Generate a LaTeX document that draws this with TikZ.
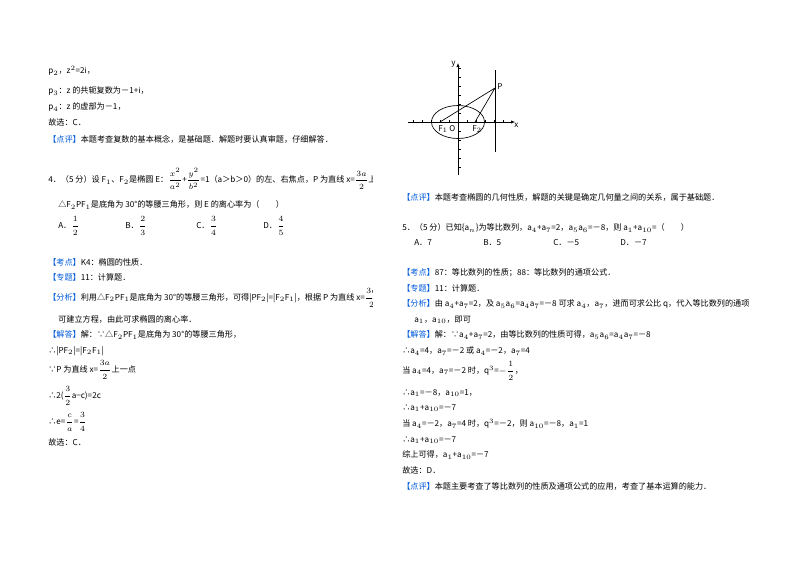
\documentclass[tikz,border=0pt]{standalone}
\usepackage{amsmath}
\usepackage{fontspec}
\setmainfont{Noto Sans CJK SC}
\usetikzlibrary{arrows.meta}
\definecolor{kb}{RGB}{0,90,220}
\newcommand{\tg}[1]{\textcolor{kb}{【#1】}}
\tikzset{t/.style={anchor=west,inner sep=0pt,font=\fontsize{6.1}{8}\selectfont},
 fl/.style={anchor=west,inner sep=0pt,font=\fontsize{6}{7}\selectfont\itshape},
 ax/.style={line width=0.5pt,-{Latex[length=3pt,width=2.5pt]}},
 thin/.style={line width=0.5pt}}
\begin{document}
\begin{tikzpicture}[x=0.75pt,y=-0.75pt]
\fill[white] (0,0) rectangle (800,565);
% left column
\node[t] (l1) at (48,71) {p$_2$，z$^2$=2i，};
\node[t] (l2) at (48,91) {p$_3$：z 的共轭复数为－1+i，};
\node[t] (l3) at (48,107) {p$_4$：z 的虚部为－1，};
\node[t] (l4) at (48,122) {故选：C．};
\node[t] (l5) at (48,139) {\tg{点评}本题考查复数的基本概念，是基础题．解题时要认真审题，仔细解答．};
\begin{scope}
\clip (0,0) rectangle (372,565);
\node[t] (l6) at (48,179) {4．（5 分）设 F$_1$、F$_2$是椭圆 E：$\dfrac{x^2}{a^2}$+$\dfrac{y^2}{b^2}$=1（a＞b＞0）的左、右焦点，P 为直线 x=$\dfrac{3a}{2}$上一点，};
\node[t] (l10) at (48,298) {\tg{分析}利用△F$_2$PF$_1$是底角为 30°的等腰三角形，可得|PF$_2$|=|F$_2$F$_1$|，根据 P 为直线 x=$\dfrac{3a}{2}$上一点，};
\end{scope}
\node[t] (l7) at (58,205) {△F$_2$PF$_1$是底角为 30°的等腰三角形，则 E 的离心率为（\quad\quad）};
\node[t] (oA) at (58,226) {A．$\dfrac12$};
\node[t] (oB) at (125,226) {B．$\dfrac23$};
\node[t] (oC) at (196,226) {C．$\dfrac34$};
\node[t] (oD) at (263,226) {D．$\dfrac45$};
\node[t] (l8) at (48,262) {\tg{考点}K4：椭圆的性质．};
\node[t] (l9) at (48,277) {\tg{专题}11：计算题．};
\node[t] (l11) at (58,319) {可建立方程，由此可求椭圆的离心率．};
\node[t] (l12) at (48,335) {\tg{解答}解：∵△F$_2$PF$_1$是底角为 30°的等腰三角形，};
\node[t] (l13) at (48,351) {∴|PF$_2$|=|F$_2$F$_1$|};
\node[t] (l14) at (48,370) {∵P 为直线 x=$\dfrac{3a}{2}$上一点};
\node[t] (l15) at (48,396) {∴2($\dfrac32$a−c)=2c};
\node[t] (l16) at (48,422) {∴e=$\dfrac{c}{a}$=$\dfrac34$};
\node[t] (l17) at (48,442) {故选：C．};
% figure
\coordinate (O) at (458,122);
\coordinate (F1) at (440,122);
\coordinate (F2) at (475,122);
\coordinate (P) at (495,88);
\draw[ax] (408,122) -- (515,122);
\draw[ax] (458,175) -- (458,63);
\foreach \i in {-5,...,5} \draw[thin] (458+9*\i,122) -- (458+9*\i,119.5);
\foreach \i in {-5,...,6} \draw[thin] (458,122-9*\i) -- (460.5,122-9*\i);
\draw[thin] (O) ellipse [x radius=26.5,y radius=16.5];
\draw[thin] (495,70) -- (495,152);
\draw[thin] (F1) -- (P) -- (F2);
\node[fl] (lx) at (514,125) {x};
\node[fl] (ly) at (451,64) {y};
\node[fl] (lP) at (497,87) {P};
\node[fl] (lF1) at (438,129) {F$_1$};
\node[fl] (lO) at (449,129) {O};
\node[fl] (lF2) at (472,129) {F$_2$};
% right column
\node[t] (r1) at (402,197) {\tg{点评}本题考查椭圆的几何性质，解题的关键是确定几何量之间的关系，属于基础题．};
\node[t] (r2) at (402,228) {5．（5 分）已知\{a$_n$\}为等比数列，a$_4$+a$_7$=2，a$_5$a$_6$=－8，则 a$_1$+a$_{10}$=（\quad\quad）};
\node[t] (rA) at (414,243) {A．7};
\node[t] (rB) at (483,243) {B．5};
\node[t] (rC) at (553,243) {C．－5};
\node[t] (rD) at (620,243) {D．－7};
\node[t] (r3) at (402,273) {\tg{考点}87：等比数列的性质；88：等比数列的通项公式．};
\node[t] (r4) at (402,288) {\tg{专题}11：计算题．};
\node[t] (r5) at (402,304) {\tg{分析}由 a$_4$+a$_7$=2，及 a$_5$a$_6$=a$_4$a$_7$=－8 可求 a$_4$，a$_7$，进而可求公比 q，代入等比数列的通项};
\node[t] (r6) at (414,320) {a$_1$，a$_{10}$，即可};
\node[t] (r7) at (402,335) {\tg{解答}解：∵a$_4$+a$_7$=2，由等比数列的性质可得，a$_5$a$_6$=a$_4$a$_7$=－8};
\node[t] (r8) at (402,351) {∴a$_4$=4，a$_7$=－2 或 a$_4$=－2，a$_7$=4};
\node[t] (r9) at (402,371) {当 a$_4$=4，a$_7$=－2 时，q$^3$=$-\dfrac12$，};
\node[t] (r10) at (402,393) {∴a$_1$=－8，a$_{10}$=1，};
\node[t] (r11) at (402,408) {∴a$_1$+a$_{10}$=－7};
\node[t] (r12) at (402,424) {当 a$_4$=－2，a$_7$=4 时，q$^3$=－2，则 a$_{10}$=－8，a$_1$=1};
\node[t] (r13) at (402,440) {∴a$_1$+a$_{10}$=－7};
\node[t] (r14) at (402,455) {综上可得，a$_1$+a$_{10}$=－7};
\node[t] (r15) at (402,470) {故选：D．};
\node[t] (r16) at (402,486) {\tg{点评}本题主要考查了等比数列的性质及通项公式的应用，考查了基本运算的能力．};
\end{tikzpicture}
\end{document}
